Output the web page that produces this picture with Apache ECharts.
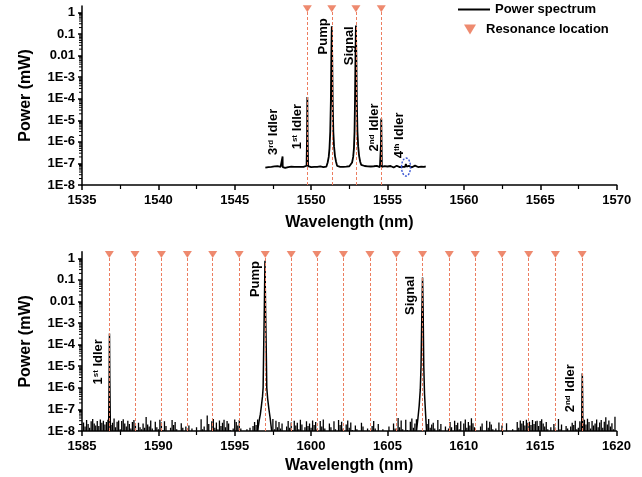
<!DOCTYPE html>
<html><head><meta charset="utf-8">
<script src="https://cdn.jsdelivr.net/npm/echarts@6/dist/echarts.min.js"></script>
<style>html,body{margin:0;padding:0;background:#fff}#c{width:642px;height:477px}</style>
</head><body><div id="c"></div>
<script>
// ================= DATA =================
const yTickLabels = ['1E-8','1E-7','1E-6','1E-5','1E-4','1E-3','0.01','0.1','1'];

// ---- top panel (1535-1570 nm) ----
const topBaseStart = 1547.0, topBaseStep = 0.1;
// baseline power, in units of 1e-8 mW
const topBaseE8 = [
 6.4,7.1,6.8,7.4,7.0,7.9,7.3,6.9,7.5,6.6,
 7.0,6.7,6.8,6.2,7.2,6.8,7.6,7.1,7.9,7.0,
 7.4,6.9,7.5,7.0,7.3,6.9,7.2,7.8,7.5,7.1,
 6.7,7.2,6.9,7.6,7.0,6.6,7.3,7.1,6.8,7.4,
 7.2,7.5,7.8,8.0,8.0,8.0,8.0,7.7,7.3,7.0,
 7.3,6.9,7.5,7.1,6.8,7.4,7.6,7.9,8.0,8.0,
 8.0,8.0,8.0,7.4,7.0,7.6,6.9,7.3,6.8,7.2,
 6.9,7.4,7.0,7.7,7.1,6.8,7.3,7.0,7.5,6.7,
 7.2,6.9,7.6,7.0,6.5,7.3,7.8,7.1,6.8,7.4,
 7.0,7.5,6.9,7.3,7.7,7.1,6.6,7.4,7.9,7.2,
 6.8,7.5,7.1,7.6,6.9,7.3
];
const topIdler3Wl = [1548.12, 1548.13, 1548.14];
const topIdler3P  = [6.8e-8, 2.1e-7, 6.8e-8];
const topIdler1Wl = [1549.70, 1549.73, 1549.75, 1549.77, 1549.80];
const topIdler1P  = [7.6e-8, 1.5e-6, 1.2e-4, 1.5e-6, 7.4e-8];
const topPumpWl = [1551.00,1551.08,1551.15,1551.20,1551.25,1551.29,1551.32,1551.35,1551.38,1551.41,1551.45,1551.50,1551.56,1551.63,1551.70];
const topPumpP  = [7.8e-8,1.1e-7,2.0e-7,5.0e-7,3.0e-6,8.0e-5,8.0e-3,0.23,8.0e-3,8.0e-5,3.0e-6,6.0e-7,2.2e-7,1.2e-7,8.5e-8];
const topSignalWl = [1552.60,1552.68,1552.75,1552.80,1552.84,1552.87,1552.90,1552.93,1552.96,1552.99,1553.03,1553.08,1553.14,1553.21,1553.28];
const topSignalP  = [7.9e-8,1.1e-7,2.0e-7,5.0e-7,3.0e-6,8.0e-5,8.0e-3,0.25,8.0e-3,8.0e-5,3.0e-6,6.0e-7,2.2e-7,1.2e-7,8.5e-8];
const topIdler2Wl = [1554.55, 1554.57, 1554.59, 1554.61, 1554.63];
const topIdler2P  = [7.2e-8, 8.0e-7, 1.2e-5, 8.0e-7, 7.0e-8];
const topIdler4Wl = [1556.15, 1556.20, 1556.25];
const topIdler4P  = [7.0e-8, 9.5e-8, 7.2e-8];
const topResonances = [1549.75, 1551.35, 1552.93, 1554.59];

// ---- bottom panel (1585-1620 nm) ----
const botBaseStart = 1585.0, botBaseStep = 0.1;
// noise floor, in units of 1e-8 mW
const botBaseE8 = [
 1.0,2.5,1.6,3.2,2.1,1.4,2.8,3.6,2.2,1.8,
 2.9,1.7,3.4,2.4,3.0,2.0,2.6,3.3,2.5,1.9,
 2.4,3.8,1.5,2.7,3.1,1.2,2.9,3.5,2.2,1.6,
 3.0,2.1,1.3,2.6,3.2,1.8,1.1,2.4,1.5,1.2,
 2.2,1.4,4.5,2.0,1.6,3.1,1.3,1.0,2.7,1.5,
 1.2,3.3,2.5,1.1,2.8,1.7,1.0,1.0,1.4,3.2,
 1.9,2.6,1.2,1.0,1.0,2.3,1.4,1.0,1.6,1.0,
 1.8,1.0,1.3,1.0,1.0,1.5,1.0,1.0,3.5,1.2,
 1.6,1.0,5.2,2.1,1.0,2.8,3.6,1.4,2.5,1.2,
 3.1,1.7,2.4,3.3,1.5,2.9,2.2,1.1,1.0,1.3,
 3.4,2.6,1.8,3.2,1.3,1.0,1.0,1.0,1.2,1.0,
 1.4,1.0,1.7,2.6,1.9,3.4,4.8,3.9,5.0,3.0,
 2.0,2.5,3.1,1.5,2.2,3.6,1.2,3.0,1.5,2.6,
 1.3,2.2,1.0,1.0,1.6,2.9,1.4,2.5,1.1,3.0,
 1.8,2.4,1.2,3.3,2.0,1.0,1.5,2.8,1.7,2.2,
 1.4,3.1,1.9,2.6,1.2,1.0,2.9,1.6,3.4,1.3,
 1.0,1.0,2.2,1.5,1.0,2.8,1.2,1.0,3.2,1.9,
 2.7,1.3,1.0,2.0,3.1,1.4,2.5,1.1,1.0,1.8,
 1.2,1.0,1.0,2.4,1.6,1.0,1.0,1.3,1.0,1.0,
 1.7,2.9,1.3,1.0,2.1,1.0,1.0,1.2,1.0,1.0,
 1.0,1.6,1.0,1.0,2.2,1.3,1.0,4.0,1.5,3.1,
 1.2,1.0,3.3,1.1,1.0,2.7,3.8,1.4,2.2,3.5,
 2.8,1.5,3.9,2.0,1.6,4.4,2.1,3.6,1.4,2.0,
 2.4,1.3,1.0,3.2,1.2,2.1,1.0,1.0,1.6,1.0,
 1.3,2.6,1.5,1.0,3.0,1.9,2.4,1.2,2.8,1.0,
 2.2,3.4,1.4,2.6,1.8,3.9,2.3,1.5,1.0,1.0,
 1.0,1.6,2.2,1.0,1.0,3.0,1.4,2.7,2.0,1.2,
 1.0,1.3,1.0,2.5,1.0,1.8,1.0,1.0,2.3,1.0,
 1.0,1.0,1.2,1.0,1.0,2.6,1.4,3.1,2.2,2.9,
 1.8,3.3,2.4,2.7,1.9,3.2,2.1,2.8,3.0,1.7,
 2.9,3.5,2.2,1.6,2.6,1.2,1.0,1.5,1.0,2.1,
 1.4,1.0,3.6,1.2,2.0,1.0,1.0,1.7,1.3,1.0,
 1.6,2.4,1.9,3.0,1.2,1.4,2.8,2.5,2.1,3.3,
 2.0,3.7,2.6,1.3,2.9,1.8,2.2,3.4,1.5,2.5,
 3.2,1.4,2.7,4.3,2.0,3.1,1.6,2.3,1.2,4.6,
 1.0
];
const botIdler1Wl = [1586.74, 1586.78, 1586.80, 1586.82, 1586.86];
const botIdler1P  = [1.0e-8, 3.0e-6, 3.3e-4, 3.0e-6, 1.0e-8];
const botPumpWl = [1596.50,1596.60,1596.68,1596.75,1596.82,1596.86,1596.90,1596.94,1596.98,1597.02,1597.06,1597.10,1597.16,1597.24,1597.32,1597.42];
const botPumpP  = [1.0e-8,3.0e-8,6.0e-8,1.5e-7,4.0e-7,1.0e-6,1.0e-4,5.0e-3,0.76,5.0e-3,1.0e-4,1.0e-6,3.0e-7,1.0e-7,4.0e-8,1.0e-8];
const botSignalWl = [1606.90,1607.00,1607.08,1607.15,1607.20,1607.25,1607.30,1607.34,1607.38,1607.43,1607.50,1607.56];
const botSignalP  = [1.0e-8,4.0e-8,1.5e-7,8.0e-7,1.0e-5,2.0e-3,0.13,3.0e-3,1.0e-5,5.0e-7,6.0e-8,1.0e-8];
const botIdler2Wl = [1617.72, 1617.74, 1617.76, 1617.78, 1617.80];
const botIdler2P  = [1.0e-8, 5.0e-7, 4.7e-6, 5.0e-7, 1.0e-8];
const botResonances = [1586.79,1588.47,1590.20,1591.90,1593.56,1595.29,1597.00,1598.70,1600.38,1602.12,1603.85,1605.58,1607.30,1609.05,1610.75,1612.50,1614.25,1616.00,1617.75];

// ================= BUILD =================
function baseline(start, step, baseE8, peaks) {
  const pts = [];
  for (let i = 0; i < baseE8.length; i++) {
    const wl = Math.round((start + i * step) * 1000) / 1000;
    const inside = peaks.some(pk => wl > pk[0][0] && wl < pk[0][pk[0].length - 1]);
    if (!inside) pts.push([wl, baseE8[i] * 1e-8]);
  }
  return pts;
}
function merge(pts, peaks) {
  const out = pts.slice();
  peaks.forEach(pk => pk[0].forEach((w, j) => out.push([w, pk[1][j]])));
  out.sort((a, b) => a[0] - b[0]);
  return out;
}
function peakPts(wl, p) { return wl.map((w, i) => [w, p[i]]); }

const topPeaks = [[topIdler3Wl, topIdler3P], [topIdler1Wl, topIdler1P], [topPumpWl, topPumpP],
  [topSignalWl, topSignalP], [topIdler2Wl, topIdler2P], [topIdler4Wl, topIdler4P]];
const topData = merge(baseline(topBaseStart, topBaseStep, topBaseE8, topPeaks), topPeaks);
const botPeaks = [[botIdler1Wl, botIdler1P], [botPumpWl, botPumpP], [botSignalWl, botSignalP], [botIdler2Wl, botIdler2P]];
const botNoise = baseline(botBaseStart, botBaseStep, botBaseE8, botPeaks);

const FONT = '"Liberation Sans", Arial, Helvetica, sans-serif';
const RES_COLOR = '#ea6d4b';
const MARKER_LEVEL = 1.5;
const Y_MIN = 1e-8, Y_MAX = 2;
const minorMantissas = [2, 3, 4, 5, 6, 7, 8, 9];
const minorTickVals = [];
for (let e = -8; e <= 0; e++) minorMantissas.forEach(m => { const v = m * Math.pow(10, e); if (v < Y_MAX) minorTickVals.push(v); });

function yFmt(v) {
  const l = Math.log10(v), e = Math.round(l);
  if (Math.abs(l - e) > 1e-6) return '';
  const i = e + 8;
  return (i >= 0 && i < yTickLabels.length) ? yTickLabels[i] : '';
}

function xAxisCfg(g, min, max, gap) {
  return {
    gridIndex: g, type: 'value', min: min, max: max, interval: 5,
    axisLine: { show: true, onZero: false, lineStyle: { color: '#000', width: 1.5 } },
    axisTick: { show: true, inside: false, length: 5, lineStyle: { color: '#000', width: 1.5 } },
    minorTick: { show: true, splitNumber: 2, length: 4, lineStyle: { color: '#000', width: 1.2 } },
    splitLine: { show: false },
    axisLabel: { color: '#000', fontSize: 13, fontWeight: 'bold', fontFamily: FONT, margin: 9,
                 formatter: v => String(v) },
    name: 'Wavelength (nm)', nameLocation: 'middle', nameGap: gap,
    nameTextStyle: { color: '#000', fontSize: 16, fontWeight: 'bold', fontFamily: FONT }
  };
}
function yAxisCfg(g) {
  return {
    gridIndex: g, type: 'log', logBase: 10, min: Y_MIN, max: Y_MAX, splitNumber: 10,
    axisLine: { show: true, onZero: false, lineStyle: { color: '#000', width: 1.5 } },
    axisTick: { show: true, inside: false, length: 4, lineStyle: { color: '#000', width: 1.5 } },
    minorTick: { show: false },
    splitLine: { show: false },
    axisLabel: { color: '#000', fontSize: 13, fontWeight: 'bold', fontFamily: FONT, margin: 7,
                 formatter: yFmt, showMaxLabel: false },
    name: 'Power (mW)', nameLocation: 'middle', nameGap: 48, nameRotate: 90,
    nameTextStyle: { color: '#000', fontSize: 16, fontWeight: 'bold', fontFamily: FONT }
  };
}
function minorTickSeries(xi, xMin) {
  return {
    type: 'custom', xAxisIndex: xi, yAxisIndex: xi, silent: true, clip: false, z: 5,
    data: minorTickVals.map(v => [xMin, v]),
    renderItem: (params, api) => {
      const p = api.coord([api.value(0), api.value(1)]);
      return { type: 'line', shape: { x1: p[0] - 3, y1: p[1], x2: p[0], y2: p[1] },
               style: { stroke: '#000', lineWidth: 1 } };
    }
  };
}
function spikeSeries(xi, data) {
  return {
    type: 'custom', xAxisIndex: xi, yAxisIndex: xi, silent: true, clip: true, z: 3,
    data: data,
    renderItem: (params, api) => {
      const top = api.coord([api.value(0), api.value(1)]);
      const bot = api.coord([api.value(0), Y_MIN]);
      return { type: 'line', shape: { x1: top[0], y1: bot[1], x2: top[0], y2: top[1] },
               style: { stroke: '#000', lineWidth: 1.3 } };
    }
  };
}
function resonanceSeries(xi, list) {
  return {
    name: 'Resonance location', type: 'scatter', xAxisIndex: xi, yAxisIndex: xi,
    data: list.map(w => [w, MARKER_LEVEL]), symbol: 'triangle', symbolRotate: 180,
    symbolSize: [9, 7], itemStyle: { color: RES_COLOR }, clip: false, z: 4, silent: true,
    markLine: {
      silent: true, symbol: ['none', 'none'], label: { show: false }, animation: false,
      lineStyle: { color: '#ec7d60', width: 1, type: [3, 2] },
      data: list.map(w => [{ coord: [w, Y_MIN] }, { coord: [w, MARKER_LEVEL] }])
    }
  };
}
function lineSeries(xi, data, w) {
  return {
    name: 'Power spectrum', type: 'line', xAxisIndex: xi, yAxisIndex: xi, data: data,
    symbol: 'none', showSymbol: false, sampling: null, z: 3,
    lineStyle: { color: '#000', width: w }, itemStyle: { color: '#000' }, silent: true
  };
}

const chart = echarts.init(document.getElementById('c'), null, { renderer: 'canvas' });
const series = [
  lineSeries(0, topData, 1.8),
  resonanceSeries(0, topResonances),
  spikeSeries(1, botNoise),
  resonanceSeries(1, botResonances),
  minorTickSeries(0, 1535),
  minorTickSeries(1, 1585)
];
botPeaks.forEach(pk => series.push(lineSeries(1, peakPts(pk[0], pk[1]), 1.5)));

chart.setOption({
  animation: false,
  backgroundColor: '#fff',
  grid: [
    { left: 82, right: 25.3, top: 6, height: 179 },
    { left: 82, right: 25.5, top: 251.8, height: 179.2 }
  ],
  xAxis: [xAxisCfg(0, 1535, 1570, 30), xAxisCfg(1, 1585, 1620, 27)],
  yAxis: [yAxisCfg(0), yAxisCfg(1)],
  legend: [
    { data: [{ name: 'Power spectrum', icon: 'path://M0,0L32,0L32,2L0,2Z' }], left: 458, top: 3,
      itemWidth: 32, itemHeight: 14, padding: 0, selectedMode: false,
      textStyle: { color: '#000', fontSize: 13, fontWeight: 'bold', fontFamily: FONT } },
    { data: [{ name: 'Resonance location', icon: 'path://M0,0L12,0L6,10Z' }], left: 464, top: 23,
      itemWidth: 22, itemHeight: 10, padding: 0, selectedMode: false,
      textStyle: { color: '#000', fontSize: 13, fontWeight: 'bold', fontFamily: FONT } }
  ],
  series: series
});

// ---------- annotations anchored in data coordinates ----------
const annotations = [
  { g: 0, t: '3{s|rd} Idler', at: [1547.52, 2.9e-6] },
  { g: 0, t: '1{s|st} Idler', at: [1549.09, 5.1e-6] },
  { g: 0, t: 'Pump', at: [1550.79, 0.078] },
  { g: 0, t: 'Signal', at: [1552.50, 0.0286] },
  { g: 0, t: '2{s|nd} Idler', at: [1554.11, 4.7e-6] },
  { g: 0, t: '4{s|th} Idler', at: [1555.77, 2.0e-6] },
  { g: 1, t: '1{s|st} Idler', at: [1586.07, 1.6e-5] },
  { g: 1, t: 'Pump', at: [1596.33, 0.11] },
  { g: 1, t: 'Signal', at: [1606.53, 0.0189] },
  { g: 1, t: '2{s|nd} Idler', at: [1617.0, 9.6e-7] }
];
const graphics = annotations.map(a => {
  const p = chart.convertToPixel({ gridIndex: a.g }, a.at);
  return {
    type: 'text', x: p[0], y: p[1], rotation: Math.PI / 2, silent: true, z: 10,
    style: {
      text: a.t, fill: '#000', font: 'bold 13px ' + FONT,
      fontSize: 13, fontWeight: 'bold', fontFamily: FONT,
      align: 'center', verticalAlign: 'middle',
      rich: { s: { fontSize: 8, fontWeight: 'bold', fontFamily: FONT, fill: '#000', verticalAlign: 'top', padding: [0, 0, 5, 0] } }
    }
  };
});
const ell = chart.convertToPixel({ gridIndex: 0 }, [1556.21, 6.8e-8]);
graphics.push({
  type: 'ellipse', silent: true, z: 10,
  shape: { cx: ell[0], cy: ell[1], rx: 4.5, ry: 9 },
  style: { fill: 'none', stroke: '#3a56d4', lineWidth: 1.4, lineDash: [2, 1.5] }
});
chart.setOption({ graphic: graphics });
</script>
</body></html>
